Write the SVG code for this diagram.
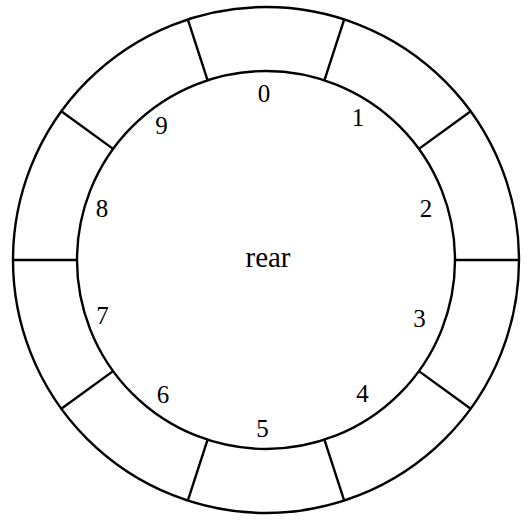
<svg xmlns="http://www.w3.org/2000/svg" width="532" height="521" viewBox="0 0 532 521">
<style>
.ring{fill:none;stroke:#000;stroke-width:2.4}
.sp{stroke:#000;stroke-width:2.4}
text{font-family:"Liberation Serif","Times New Roman",serif;font-size:25px;fill:#000;text-anchor:middle}
#rear text{font-size:29px}
</style>
<rect width="532" height="521" fill="#fff"/>
<g id="connectors">
<circle class="ring" cx="266" cy="260" r="253"/>
<circle class="ring" cx="266" cy="260" r="189"/>
<line class="sp" x1="455" y1="260" x2="519" y2="260"/>
<line class="sp" x1="418.9" y1="148.9" x2="470.7" y2="111.3"/>
<line class="sp" x1="324.4" y1="80.3" x2="344.2" y2="19.4"/>
<line class="sp" x1="207.6" y1="80.3" x2="187.8" y2="19.4"/>
<line class="sp" x1="113.1" y1="148.9" x2="61.3" y2="111.3"/>
<line class="sp" x1="77" y1="260" x2="13" y2="260"/>
<line class="sp" x1="113.1" y1="371.1" x2="61.3" y2="408.7"/>
<line class="sp" x1="207.6" y1="439.7" x2="187.8" y2="500.6"/>
<line class="sp" x1="324.4" y1="439.7" x2="344.2" y2="500.6"/>
<line class="sp" x1="418.9" y1="371.1" x2="470.7" y2="408.7"/>
</g>
<g id="rear"><text x="268" y="267">rear</text></g>
<g id="n0"><text x="264" y="102">0</text></g>
<g id="n1"><text x="358" y="126">1</text></g>
<g id="n2"><text x="426" y="217">2</text></g>
<g id="n3"><text x="419.5" y="327">3</text></g>
<g id="n4"><text x="362.5" y="402">4</text></g>
<g id="n5"><text x="262.5" y="437">5</text></g>
<g id="n6"><text x="163" y="403">6</text></g>
<g id="n7"><text x="102.5" y="324">7</text></g>
<g id="n8"><text x="102" y="217">8</text></g>
<g id="n9"><text x="161.5" y="134">9</text></g>
</svg>
